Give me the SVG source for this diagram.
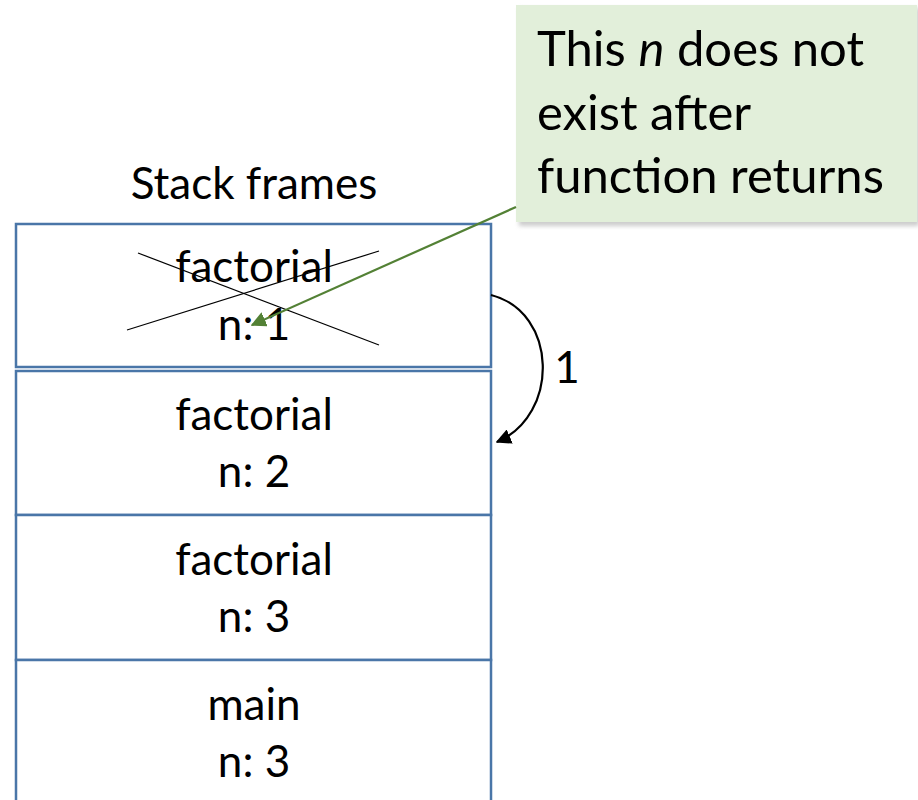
<svg xmlns="http://www.w3.org/2000/svg" width="918" height="800" viewBox="0 0 918 800">
  <style>
    .frame { fill: #ffffff; stroke: #4a76a8; stroke-width: 2.5; }
    .lbl { font-family: Lato, "Liberation Sans", sans-serif; font-size: 44px; fill: #000; text-anchor: middle; }
    .note { font-family: Lato, "Liberation Sans", sans-serif; font-size: 49px; fill: #000; }
    .cross { stroke: #000; stroke-width: 1.2; }
  </style>
  <defs>
    <marker id="greenHead" viewBox="0 0 10 10" refX="9" refY="5" markerWidth="7" markerHeight="7" orient="auto" markerUnits="strokeWidth">
      <path d="M0,0 L10,5 L0,10 z" fill="#538135"/>
    </marker>
    <marker id="blackHead" viewBox="0 0 10 10" refX="9" refY="5" markerWidth="7" markerHeight="7" orient="auto" markerUnits="strokeWidth">
      <path d="M0,0 L10,5 L0,10 z" fill="#000"/>
    </marker>
    <filter id="shadow" x="-10%" y="-10%" width="120%" height="130%">
      <feGaussianBlur stdDeviation="2"/>
    </filter>
  </defs>
  <rect width="918" height="800" fill="#ffffff"/>

  <text class="lbl" x="254" y="199" font-size="42">Stack frames</text>

  <g id="frame-factorial-1">
    <rect class="frame" x="16" y="224" width="475" height="143"/>
    <text class="lbl" x="254" y="282">factorial</text>
    <text class="lbl" x="254" y="340">n: 1</text>
    <line class="cross" x1="138" y1="253" x2="379" y2="345"/>
    <line class="cross" x1="127" y1="330" x2="379" y2="251"/>
  </g>

  <g id="frame-factorial-2">
    <rect class="frame" x="16" y="371" width="475" height="144"/>
    <text class="lbl" x="254" y="430">factorial</text>
    <text class="lbl" x="254" y="487">n: 2</text>
  </g>

  <g id="frame-factorial-3">
    <rect class="frame" x="16" y="515" width="475" height="145"/>
    <text class="lbl" x="254" y="575">factorial</text>
    <text class="lbl" x="254" y="632">n: 3</text>
  </g>

  <g id="frame-main">
    <rect class="frame" x="16" y="660" width="475" height="150"/>
    <text class="lbl" x="254" y="720">main</text>
    <text class="lbl" x="254" y="777">n: 3</text>
  </g>

  <g id="note">
    <rect x="519" y="8" width="400" height="218" fill="#9a9a9a" opacity="0.5" filter="url(#shadow)"/>
    <rect x="516" y="5" width="401" height="217" fill="#e2efda"/>
    <text class="note" x="537" y="66">This <tspan font-style="italic">n</tspan> does not</text>
    <text class="note" x="537" y="130">exist after</text>
    <text class="note" x="537" y="193">function returns</text>
  </g>

  <g id="connectors">
    <line x1="516" y1="207" x2="252" y2="325" stroke="#538135" stroke-width="2.2" marker-end="url(#greenHead)"/>
    <path d="M491,295 C558,312 560,415 497,442" fill="none" stroke="#000" stroke-width="2.2" marker-end="url(#blackHead)"/>
    <text class="lbl" x="567" y="383" font-size="42">1</text>
  </g>
</svg>
